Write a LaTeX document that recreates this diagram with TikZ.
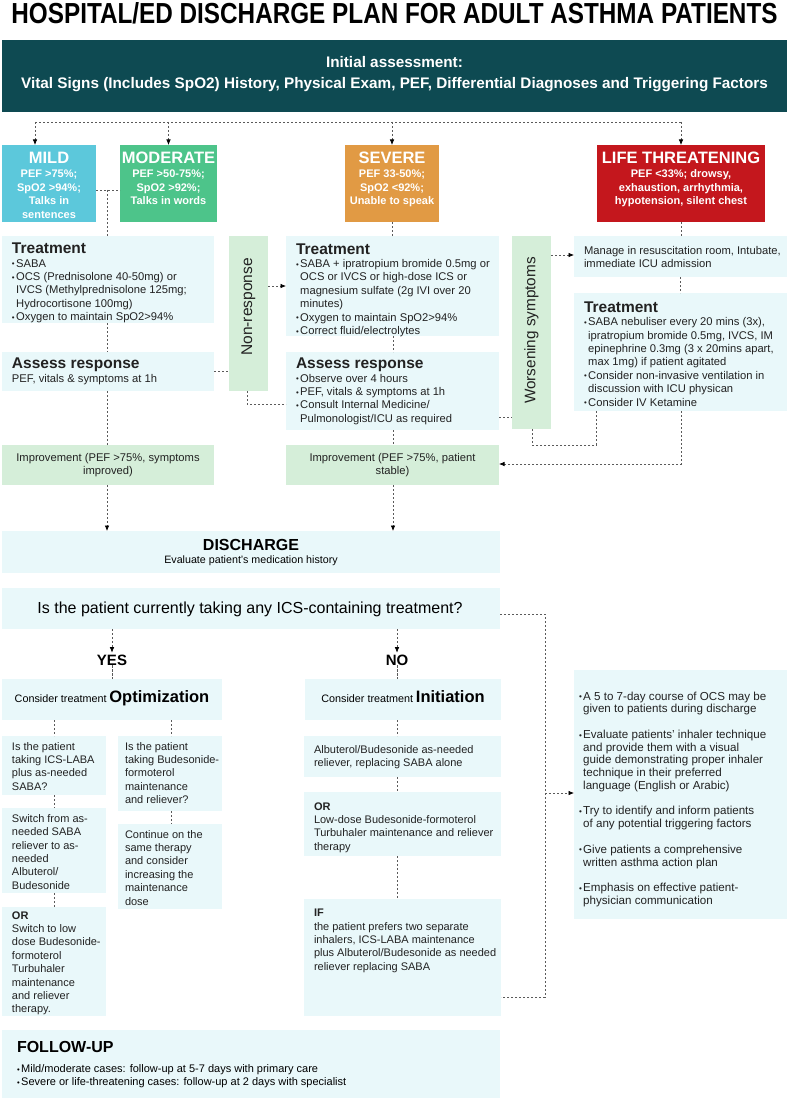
\documentclass[tikz,border=0pt]{standalone}
\usepackage{graphicx}
\usepackage{fontspec}
\setmainfont{Liberation Sans}
\usetikzlibrary{arrows.meta}
\definecolor{cTeal}{HTML}{0E4A52}
\definecolor{cPanel}{HTML}{E9F8FA}
\definecolor{cGreen}{HTML}{D5EED9}
\definecolor{cMild}{HTML}{5CC8DB}
\definecolor{cMod}{HTML}{4DC48A}
\definecolor{cSev}{HTML}{E19A44}
\definecolor{cLife}{HTML}{C4171D}
\definecolor{cLine}{HTML}{5A5A5A}
\definecolor{cText}{HTML}{222222}
\newcommand{\st}[1]{\rule{0pt}{#1pt}}
\newcommand{\bul}{\makebox[4.2pt][l]{\raisebox{0.4pt}{\scalebox{0.7}{\textbullet}}}}
\newcommand{\ind}{\hspace*{4.2pt}}
\newcommand{\hd}{\fontsize{15.5}{16}\selectfont\bfseries}
\newcommand{\mkbox}[6]{\node[#1, minimum width={(#5-#3)*1pt}, minimum height={(#6-#4)*1pt}] (#2) at (#3,#4) {};}
\begin{document}
\begin{tikzpicture}[x=1pt,y=-1pt,
  every node/.style={inner sep=0pt, outer sep=0pt},
  panel/.style={fill=cPanel, anchor=north west},
  gpanel/.style={fill=cGreen, anchor=north west},
  sev/.style={fill=#1, anchor=north west},
  txt/.style={anchor=north west, align=left, text=cText, font=\fontsize{11.2}{13.4}\selectfont},
  wtxt/.style={anchor=north, align=center, text=white, font=\fontsize{11}{13.6}\selectfont\bfseries},
  conn/.style={draw=cLine, line width=0.7pt, dash pattern=on 2.2pt off 1.8pt},
  arr/.style={conn, -{Latex[length=5.5pt, width=4.6pt, black]}}]
\fill[white] (0,0) rectangle (789,1102);
\useasboundingbox (0,0) rectangle (789,1102);

% title
\node[anchor=base, font=\bfseries] (title) at (394.5,24) {\resizebox{766pt}{21pt}{HOSPITAL/ED DISCHARGE PLAN FOR ADULT ASTHMA PATIENTS}};

% initial assessment
\mkbox{sev=cTeal}{init}{2}{40}{787}{112}
\node[anchor=north, align=center, text=white, font=\fontsize{15.3}{21}\selectfont\bfseries] (init-t) at (394.5,55.5) {\st{12}Initial assessment:\\Vital Signs (Includes SpO2) History, Physical Exam, PEF, Differential Diagnoses and Triggering Factors};

% severity boxes
\mkbox{sev=cMild}{mild}{2}{145}{96}{222}
\mkbox{sev=cMod}{moderate}{120}{145}{217}{222}
\mkbox{sev=cSev}{severe}{345}{145}{439}{222}
\mkbox{sev=cLife}{life}{597}{145}{765}{222}
\node[wtxt] (mild-t) at (mild.north |- 0,150.8) {\st{13}{\fontsize{16.5}{16}\selectfont MILD}\\PEF >75\%;\\SpO2 >94\%;\\Talks in\\sentences};
\node[wtxt] (moderate-t) at (moderate.north |- 0,150.8) {\st{13}{\fontsize{16.5}{16}\selectfont MODERATE}\\PEF >50-75\%;\\SpO2 >92\%;\\Talks in words};
\node[wtxt] (severe-t) at (severe.north |- 0,150.8) {\st{13}{\fontsize{16.5}{16}\selectfont SEVERE}\\PEF 33-50\%;\\SpO2 <92\%;\\Unable to speak};
\node[wtxt] (life-t) at (life.north |- 0,150.8) {\st{13}{\fontsize{16.5}{16}\selectfont LIFE THREATENING}\\PEF <33\%; drowsy,\\exhaustion, arrhythmia,\\hypotension, silent chest};

% treatment area
\mkbox{panel}{ltreat}{2}{236}{214}{323}
\mkbox{gpanel}{nonresp}{229}{236}{268}{391}
\mkbox{panel}{lassess}{2}{352}{214}{391}
\mkbox{gpanel}{limp}{2}{445}{214}{485}
\mkbox{panel}{streat}{286}{236}{499}{336}
\mkbox{panel}{sassess}{286}{352}{499}{430}
\mkbox{gpanel}{rimp}{286}{445}{499}{485}
\mkbox{gpanel}{worsen}{512}{236}{551}{429}
\mkbox{panel}{manage}{574}{236}{787}{277}
\mkbox{panel}{lttreat}{574}{293}{787}{411}

\node[txt] (ltreat-t) at (12,241.6) {\st{12}{\hd Treatment}\\\bul SABA\\\bul OCS (Prednisolone 40-50mg) or\\\ind IVCS (Methylprednisolone 125mg;\\\ind Hydrocortisone 100mg)\\\bul Oxygen to maintain SpO2>94\%};
\node[txt] (lassess-t) at (12,356.6) {\st{12}{\hd Assess response}\\PEF, vitals \& symptoms at 1h};
\node[align=center, text=cText, font=\fontsize{11.2}{13}\selectfont] (limp-t) at (limp.center) {Improvement (PEF >75\%, symptoms\\improved)};
\node[rotate=90, text=cText, font=\fontsize{15.5}{16}\selectfont] (nonresp-t) at (248.5,307) {Non-response};
\node[txt] (streat-t) at (296,242) {\st{12}{\hd Treatment}\\\bul SABA + ipratropium bromide 0.5mg or\\\ind OCS or IVCS or high-dose ICS or\\\ind magnesium sulfate (2g IVI over 20\\\ind minutes)\\\bul Oxygen to maintain SpO2>94\%\\\bul Correct fluid/electrolytes};
\node[txt] (sassess-t) at (296,356.6) {\st{12}{\hd Assess response}\\\bul Observe over 4 hours\\\bul PEF, vitals \& symptoms at 1h\\\bul Consult Internal Medicine/\\\ind Pulmonologist/ICU as required};
\node[align=center, text=cText, font=\fontsize{11.2}{13}\selectfont] (rimp-t) at (rimp.center) {Improvement (PEF >75\%, patient\\stable)};
\node[rotate=90, text=cText, font=\fontsize{15.3}{16}\selectfont] (worsen-t) at (531.5,330.5) {Worsening symptoms};
\node[txt, font=\fontsize{11.2}{13}\selectfont] (manage-t) at (584,244) {\st{10}Manage in resuscitation room, Intubate,\\immediate ICU admission};
\node[txt] (lttreat-t) at (584,300.3) {\st{12}{\hd Treatment}\\\bul SABA nebuliser every 20 mins (3x),\\\ind ipratropium bromide 0.5mg, IVCS, IM\\\ind epinephrine 0.3mg (3 x 20mins apart,\\\ind max 1mg) if patient agitated\\\bul Consider non-invasive ventilation in\\\ind discussion with ICU physican\\\bul Consider IV Ketamine};

% discharge
\mkbox{panel}{discharge}{2}{531}{500}{573}
\node[anchor=base, text=black, font=\fontsize{16}{16}\selectfont\bfseries] (dis-h) at (251,550.5) {DISCHARGE};
\node[anchor=base, text=black, font=\fontsize{10.7}{12}\selectfont] (dis-t) at (251,563.5) {Evaluate patient's medication history};
\mkbox{panel}{question}{2}{588}{500}{629}
\node[anchor=base, text=black, font=\fontsize{16}{17}\selectfont] (question-t) at (250,613.5) {Is the patient currently taking any ICS-containing treatment?};
\node[text=black, font=\fontsize{15}{15}\selectfont\bfseries] (yes) at (112,660) {YES};
\node[text=black, font=\fontsize{15}{15}\selectfont\bfseries] (no) at (397,660) {NO};
\mkbox{panel}{opt}{2}{679}{222}{720}
\mkbox{panel}{initb}{305}{679}{501}{720}
\node[anchor=base, text=black] (opt-t) at (112,702) {{\fontsize{10.8}{12}\selectfont Consider treatment} {\fontsize{16.5}{17}\selectfont\bfseries Optimization}};
\node[anchor=base, text=black] (initb-t) at (403,702) {{\fontsize{10.8}{12}\selectfont Consider treatment} {\fontsize{16.5}{17}\selectfont\bfseries Initiation}};

% lower boxes
\mkbox{panel}{q1}{2}{736}{106}{795}
\mkbox{panel}{q2}{118}{736}{222}{811}
\mkbox{panel}{sw}{2}{808}{106}{893}
\mkbox{panel}{cont}{118}{824}{222}{909}
\mkbox{panel}{or1}{2}{907}{106}{1016}
\mkbox{panel}{alb}{304}{736}{501}{777}
\mkbox{panel}{or2}{304}{792}{501}{856}
\mkbox{panel}{ifb}{304}{899}{501}{1016}
\mkbox{panel}{tips}{574}{670}{787}{919}
\mkbox{panel}{follow}{2}{1030}{500}{1098}

\node[txt, font=\fontsize{11}{13.4}\selectfont] (q1-t) at (12,740) {\st{10}Is the patient\\taking ICS-LABA\\plus as-needed\\SABA?};
\node[txt, font=\fontsize{11}{13.4}\selectfont] (q2-t) at (125,740) {\st{10}Is the patient\\taking Budesonide-\\formoterol\\maintenance\\and reliever?};
\node[txt, font=\fontsize{11}{13.4}\selectfont] (sw-t) at (12,812.3) {\st{10}Switch from as-\\needed SABA\\reliever to as-\\needed\\Albuterol/\\Budesonide};
\node[txt, font=\fontsize{11}{13.4}\selectfont] (cont-t) at (125,828) {\st{10}Continue on the\\same therapy\\and consider\\increasing the\\maintenance\\dose};
\node[txt, font=\fontsize{11}{13.4}\selectfont] (or1-t) at (12,909) {\st{10}{\bfseries OR}\\Switch to low\\dose Budesonide-\\formoterol\\Turbuhaler\\maintenance\\and reliever\\therapy.};
\node[txt, font=\fontsize{11}{13.4}\selectfont] (alb-t) at (314,743.3) {\st{10}Albuterol/Budesonide as-needed\\reliever, replacing SABA alone};
\node[txt, font=\fontsize{11}{13.4}\selectfont] (or2-t) at (314,800) {\st{10}{\bfseries OR}\\Low-dose Budesonide-formoterol\\Turbuhaler maintenance and reliever\\therapy};
\node[txt, font=\fontsize{11}{13.4}\selectfont] (ifb-t) at (314,906.7) {\st{10}{\bfseries IF}\\the patient prefers two separate\\inhalers, ICS-LABA maintenance\\plus Albuterol/Budesonide as needed\\reliever replacing SABA};
\node[txt, font=\fontsize{11.6}{12.7}\selectfont] (tips-t) at (579,690) {\st{10}\bul A 5 to 7-day course of OCS may be\\\ind given to patients during discharge\\[13pt]\bul Evaluate patients' inhaler technique\\\ind and provide them with a visual\\\ind guide demonstrating proper inhaler\\\ind technique in their preferred\\\ind language (English or Arabic)\\[13pt]\bul Try to identify and inform patients\\\ind of any potential triggering factors\\[13pt]\bul Give patients a comprehensive\\\ind written asthma action plan\\[13pt]\bul Emphasis on effective patient-\\\ind physician communication};
\node[anchor=base west, text=black, font=\fontsize{16}{16}\selectfont\bfseries] (follow-h) at (17,1052) {FOLLOW-UP};
\node[txt, text=black, font=\fontsize{11}{13.4}\selectfont] (follow-t) at (17,1063.5) {\st{9}\bul Mild/moderate cases: follow-up at 5-7 days with primary care\\\bul Severe or life-threatening cases: follow-up at 2 days with specialist};

% connectors
\coordinate (tl) at (35,122);
\coordinate (tr) at (681,122);
\draw[conn] (tl) -- (tr);
\draw[arr] (tl) -- (tl |- mild.north);
\draw[arr] (moderate.north |- tl) -- (moderate.north);
\draw[arr] (severe.north |- tl) -- (severe.north);
\draw[arr] (life.north |- tl) -- (life.north);
\coordinate (mm) at (107,190);
\draw[conn] (mild.east |- mm) -- (moderate.west |- mm);
\draw[conn] (mm) -- (mm |- ltreat.north);
\draw[conn] (severe.south) -- (severe.south |- streat.north);
\draw[conn] (life.south) -- (life.south |- manage.north);
\coordinate (nr) at (0,286);
\draw[arr] (nonresp.east |- nr) -- (streat.west |- nr);
\draw[conn] (lassess.east) -- (lassess.east -| nonresp.west);
\coordinate (nb) at (247,404);
\draw[conn] (nonresp.south -| nb) -- (nb) -- (nb -| sassess.west);
\draw[conn] (ltreat.south -| mm) -- (lassess.north -| mm);
\draw[conn] (lassess.south -| mm) -- (limp.north -| mm);
\draw[arr] (limp.south -| mm) -- (discharge.north -| mm);
\coordinate (sc) at (393,0);
\draw[conn] (streat.south -| sc) -- (sassess.north -| sc);
\draw[conn] (sassess.south -| sc) -- (rimp.north -| sc);
\draw[arr] (rimp.south -| sc) -- (discharge.north -| sc);
\coordinate (ws) at (0,417);
\draw[conn] (sassess.east |- ws) -- (worsen.west |- ws);
\coordinate (wm) at (0,255);
\draw[arr] (worsen.east |- wm) -- (manage.west |- wm);
\draw[conn] (manage.south) -- (manage.south |- lttreat.north);
\coordinate (lr) at (681,464);
\draw[arr] (lttreat.south -| lr) -- (lr) -- (lr -| rimp.east);
\coordinate (lw1) at (596,445);
\coordinate (lw2) at (532,445);
\draw[conn] (lttreat.south -| lw1) -- (lw1) -- (lw2) -- (worsen.south -| lw2);
\draw[arr, shorten >=2pt] (question.south -| yes) -- (yes.north);
\draw[arr, shorten >=2pt] (question.south -| no) -- (no.north);
\draw[conn] (yes.south) -- (yes.south |- opt.north);
\draw[conn] (no.south) -- (no.south |- initb.north);
\coordinate (oc1) at (54,0);
\coordinate (oc2) at (171,0);
\draw[conn] (opt.south -| oc1) -- (q1.north -| oc1);
\draw[conn] (q1.south -| oc1) -- (sw.north -| oc1);
\draw[conn] (sw.south -| oc1) -- (or1.north -| oc1);
\draw[conn] (opt.south -| oc2) -- (q2.north -| oc2);
\draw[conn] (q2.south -| oc2) -- (cont.north -| oc2);
\coordinate (ic) at (397,0);
\draw[conn] (initb.south -| ic) -- (alb.north -| ic);
\draw[conn] (alb.south -| ic) -- (or2.north -| ic);
\draw[conn] (or2.south -| ic) -- (ifb.north -| ic);
\coordinate (qr) at (545,614);
\coordinate (qb) at (545,997);
\coordinate (qa) at (545,793);
\draw[conn] (question.east |- qr) -- (qr) -- (qb) -- (qb -| ifb.east);
\draw[arr] (qa) -- (qa -| tips.west);
\end{tikzpicture}
\end{document}
